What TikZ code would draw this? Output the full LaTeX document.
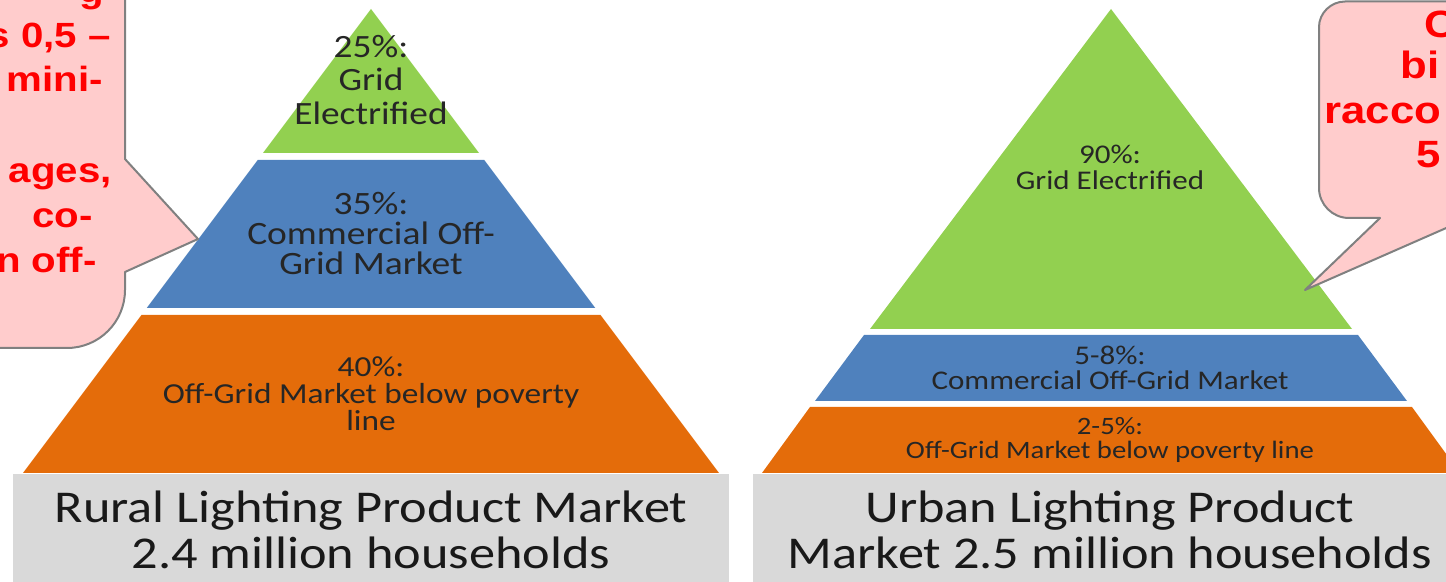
\documentclass[tikz,border=0pt]{standalone}
\usepackage{fontspec}
\setmainfont{Carlito}[FakeStretch=1.15]
\newfontfamily\notefont{Liberation Sans}[FakeStretch=1.15]

\definecolor{gridgreen}{RGB}{146,208,80}
\definecolor{offblue}{RGB}{79,129,189}
\definecolor{povorange}{RGB}{228,108,10}
\definecolor{titlegray}{RGB}{217,217,217}
\definecolor{notepink}{RGB}{255,204,204}
\definecolor{noteline}{RGB}{128,128,128}

\begin{document}
\begin{tikzpicture}[
            x = 0.5pt, y = -0.5pt, % one unit = one pixel of the slide
            line join = round
        ]

        \tikzstyle{layer text}=[
            align = center,
            text = black!85,
            inner sep = 0pt
        ]
        \tikzstyle{title text}=[
            align = center,
            text = black!90,
            inner sep = 0pt,
            font = \fontsize{22.75}{23}\selectfont
        ]
        \tikzstyle{note}=[
            fill = notepink,
            draw = noteline,
            line width = 1pt
        ]
        \tikzstyle{note text}=[
            text = red,
            inner sep = 0pt,
            font = \notefont\bfseries\fontsize{19}{22}\selectfont
        ]

	\useasboundingbox (0,0) rectangle (1446,582);
	\clip (0,0) rectangle (1446,582);

	% rural pyramid
	\fill[gridgreen] (371,9) -- (479,153) -- (263,153) -- cycle;
	\fill[offblue] (257.75,160) -- (484.25,160) -- (595.25,308) -- (146.75,308) -- cycle;
	\fill[povorange] (141.5,315) -- (600.5,315) -- (719,473) -- (23,473) -- cycle;
	\fill[titlegray] (13,474) rectangle (729,600);

	% urban pyramid
	\fill[gridgreen] (1111,9) -- (1352,329) -- (870,329) -- cycle;
	\fill[offblue] (864,335) -- (1358,335) -- (1407,401) -- (815,401) -- cycle;
	\fill[povorange] (810,407) -- (1412,407) -- (1460,473) -- (762,473) -- cycle;
	\fill[titlegray] (753,474) rectangle (1469,600);

	\node[layer text, font=\fontsize{16.25}{16.75}\selectfont] (rgrid) at (371,80) {25\%:\\Grid\\Electrified};
	\node[layer text, font=\fontsize{16.3}{15}\selectfont] (rcomm) at (371,234) {35\%:\\Commercial Off-\\Grid Market};
	\node[layer text, font=\fontsize{14.5}{13.5}\selectfont] (rpoor) at (371,394) {40\%:\\Off-Grid Market below poverty\\line};
	\node[title text] (rtitle) at (371,530) {Rural Lighting Product Market\\2.4 million households};

	\node[layer text, font=\fontsize{13.5}{13}\selectfont] (ugrid) at (1110,167) {90\%:\\Grid Electrified};
	\node[layer text, font=\fontsize{13.5}{12.5}\selectfont] (ucomm) at (1110,368) {5-8\%:\\Commercial Off-Grid Market};
	\node[layer text, font=\fontsize{12.5}{12}\selectfont] (upoor) at (1110,440) {2-5\%:\\Off-Grid Market below poverty line};
	\node[title text] (utitle) at (1110,530) {Urban Lighting Product\\Market 2.5 million households};

	% callouts
	\draw[note] (-20,-20) -- (125,-20) -- (125,159) -- (198,239) -- (125,272)
	    -- (125,290) .. controls (125,322) and (99,348) .. (67,348) -- (-20,348);
	\draw[note] (1500,1.5) -- (1345,1.5) .. controls (1331,1.5) and (1319,13) .. (1319,27)
	    -- (1319,188) .. controls (1319,204.5) and (1332.5,218) .. (1349,218)
	    -- (1380,218) -- (1305,290) -- (1469,218) -- (1500,218);

	\begin{scope}[every node/.style={note text, anchor=base east, font=\notefont\bfseries\fontsize{17.5}{20}\selectfont}]
	\node (lnote0) at (104,3) {g};
	\node (lnote1) at (111,48) {s 0,5 –};
	\node (lnote2) at (103,92) {mini-};
	\node (lnote3) at (112,183) {ages,};
	\node (lnote4) at (93,228) {co-};
	\node (lnote5) at (97,273) {n off-};
	\end{scope}
	\begin{scope}[every node/.style={note text, anchor=base west}]
	\node (rnote1) at (1424,38) {C};
	\node (rnote2) at (1400,79) {bi};
	\node (rnote3) at (1324,124) {racco};
	\node (rnote4) at (1416,168) {5};
	\end{scope}

    \end{tikzpicture}
\end{document}
